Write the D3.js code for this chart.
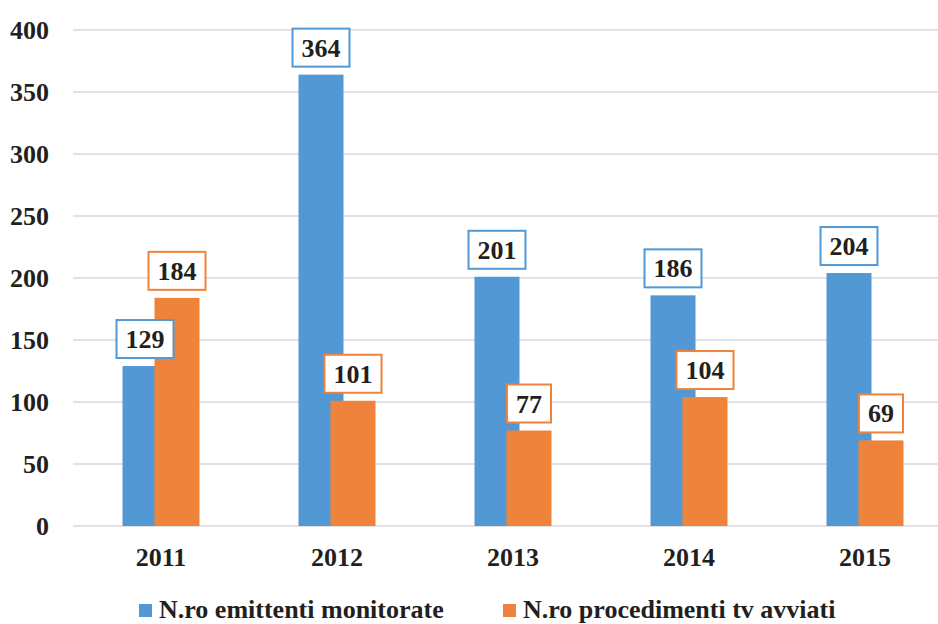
<!DOCTYPE html>
<html>
<head>
<meta charset="utf-8">
<script src="https://d3js.org/d3.v7.min.js"></script>
<style>
  body { margin: 0; background: #fff; }
  text { font-family: "Liberation Serif", "Times New Roman", serif; font-weight: bold; fill: #231f20; }
</style>
</head>
<body>
<svg width="938" height="624"></svg>
<script>
// data
var years = ["2011", "2012", "2013", "2014", "2015"];
var emittenti = [129, 364, 201, 186, 204];
var procedimenti = [184, 101, 77, 104, 69];
var seriesNames = ["N.ro emittenti monitorate", "N.ro procedimenti tv avviati"];
var yTicks = [0, 50, 100, 150, 200, 250, 300, 350, 400];

var colors = ["#5298d4", "#f0833b"];
var svg = d3.select("svg");

var plotLeft = 73, plotRight = 953, plotTop = 30, plotBottom = 526;
var x = d3.scaleBand().domain(years).range([plotLeft, plotRight]);
var y = d3.scaleLinear().domain([0, 400]).range([plotBottom, plotTop]);

var barW = 45;
var offsets = [-38.5, -6.5]; // bars overlap a bit

// gridlines
svg.append("g").selectAll("line")
  .data(yTicks)
  .enter().append("line")
    .attr("x1", plotLeft).attr("x2", 938)
    .attr("y1", function(d) { return y(d); })
    .attr("y2", function(d) { return y(d); })
    .attr("stroke", "#d9d9d9")
    .attr("stroke-width", 1.5);

// y tick labels
svg.append("g").selectAll("text")
  .data(yTicks)
  .enter().append("text")
    .attr("x", 49)
    .attr("y", function(d) { return y(d) + 9; })
    .attr("text-anchor", "end")
    .style("font-size", "26px")
    .text(function(d) { return d; });

// x labels
svg.append("g").selectAll("text")
  .data(years)
  .enter().append("text")
    .attr("x", function(d) { return x(d) + x.bandwidth() / 2; })
    .attr("y", 566)
    .attr("text-anchor", "middle")
    .style("font-size", "26px")
    .text(function(d) { return d; });

var series = [emittenti, procedimenti];

series.forEach(function(vals, s) {
  svg.append("g").selectAll("rect")
    .data(vals)
    .enter().append("rect")
      .attr("x", function(d, i) { return x(years[i]) + x.bandwidth() / 2 + offsets[s]; })
      .attr("y", function(d) { return y(d); })
      .attr("width", barW)
      .attr("height", function(d) { return plotBottom - y(d); })
      .attr("fill", colors[s]);
});

// data labels with boxes
series.forEach(function(vals, s) {
  vals.forEach(function(d, i) {
    var cx = x(years[i]) + x.bandwidth() / 2 + offsets[s] + barW / 2;
    var boxBottom = y(d) - 8;
    var g = svg.append("g");
    var rect = g.append("rect");
    var t = g.append("text")
      .attr("x", cx)
      .attr("y", boxBottom - 19 + 9)
      .attr("text-anchor", "middle")
      .style("font-size", "26px")
      .text(d);
    var w = t.node().getComputedTextLength() + 18;
    rect.attr("x", cx - w / 2)
      .attr("y", boxBottom - 38)
      .attr("width", w)
      .attr("height", 38)
      .attr("fill", "#fff")
      .attr("stroke", colors[s])
      .attr("stroke-width", 2);
  });
});

// legend
var legendX = [139, 503];
seriesNames.forEach(function(name, s) {
  svg.append("rect")
    .attr("x", legendX[s]).attr("y", 604)
    .attr("width", 13).attr("height", 13)
    .attr("fill", colors[s]);
  svg.append("text")
    .attr("x", legendX[s] + 20)
    .attr("y", 618)
    .style("font-size", "26px")
    .text(name);
});
</script>
</body>
</html>
